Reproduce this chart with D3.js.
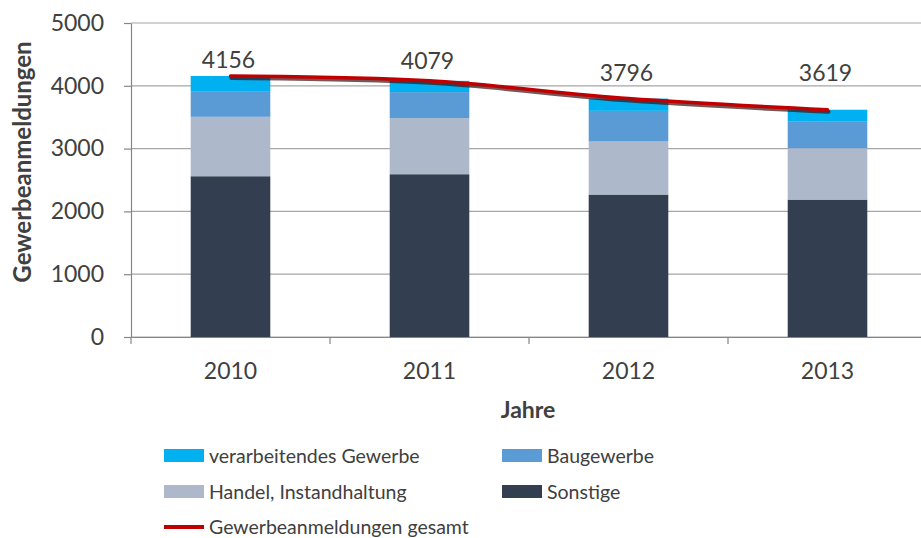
<!DOCTYPE html>
<html>
<head>
<meta charset="utf-8">
<script src="https://cdn.jsdelivr.net/npm/d3@7"></script>
<style>
  body { margin: 0; background: #fff; }
  text { font-family: Lato, "Liberation Sans", sans-serif; fill: #404040; }
</style>
</head>
<body>
<div id="chart"></div>
<script>
// data
var years = ["2010", "2011", "2012", "2013"];
var sonstige = [2560, 2592, 2268, 2188];
var handel = [946, 893, 845, 818];
var bau = [409, 415, 488, 431];
var verarb = [241, 179, 195, 182];
var gesamt = [4156, 4079, 3796, 3619];
var yTicks = [0, 1000, 2000, 3000, 4000, 5000];

var seriesNames = ["Sonstige", "Handel, Instandhaltung", "Baugewerbe", "verarbeitendes Gewerbe"];
var seriesColors = ["#333f50", "#adb9ca", "#5b9bd5", "#00b0f0"];

var W = 921, H = 538;
var margin = {top: 23, left: 131, right: -6, bottom: 201};

var svg = d3.select("#chart")
    .append("svg")
    .attr("width", W)
    .attr("height", H);

// build stack table from the arrays
var table = years.map(function(y, i) {
    return {year: y, "Sonstige": sonstige[i], "Handel, Instandhaltung": handel[i],
            "Baugewerbe": bau[i], "verarbeitendes Gewerbe": verarb[i], total: gesamt[i]};
});
var stacked = d3.stack().keys(seriesNames)(table);

var x = d3.scaleBand()
    .domain(years)
    .range([margin.left, W - margin.right])
    .padding(0);

var y = d3.scaleLinear()
    .domain([0, 5000])
    .range([H - margin.bottom, margin.top]);

var barW = x.bandwidth() * 0.4;

// gridlines
svg.append("g")
    .selectAll("line")
    .data(yTicks)
    .enter()
    .append("line")
    .attr("x1", margin.left)
    .attr("x2", W)
    .attr("y1", function(d) { return y(d); })
    .attr("y2", function(d) { return y(d); })
    .style("stroke", "#a6a6a6")
    .style("stroke-width", 1.2);

// bars
svg.append("g")
    .selectAll("g")
    .data(stacked)
    .enter()
    .append("g")
    .style("fill", function(d, i) { return seriesColors[i]; })
    .selectAll("rect")
    .data(function(d) { return d; })
    .enter()
    .append("rect")
    .attr("x", function(d) { return x(d.data.year) + (x.bandwidth() - barW) / 2; })
    .attr("y", function(d) { return y(d[1]); })
    .attr("width", barW)
    .attr("height", function(d) { return y(d[0]) - y(d[1]); });

// Y axis
var yAxis = svg.append("g")
    .attr("transform", "translate(" + margin.left + ",0)")
    .call(d3.axisLeft(y).tickValues(yTicks).tickFormat(d3.format("d")).tickSize(7).tickPadding(20).tickSizeOuter(0));
yAxis.select(".domain").style("stroke", "#868686").style("stroke-width", 1.2);
yAxis.selectAll(".tick line").style("stroke", "#868686").style("stroke-width", 1.2);
yAxis.selectAll(".tick text")
    .style("font-size", "23px")
    .style("fill", "#404040");

// X axis
var xAxis = svg.append("g")
    .attr("transform", "translate(0," + y(0) + ")")
    .call(d3.axisBottom(x).tickSize(0).tickPadding(26));
xAxis.select(".domain").style("stroke", "#868686").style("stroke-width", 1.2);
xAxis.selectAll(".tick text")
    .style("font-size", "23px")
    .style("fill", "#404040");

// tick marks between categories
svg.append("g")
    .selectAll("line")
    .data(years.concat(["end"]))
    .enter()
    .append("line")
    .attr("x1", function(d, i) { return margin.left + i * x.step(); })
    .attr("x2", function(d, i) { return margin.left + i * x.step(); })
    .attr("y1", y(0))
    .attr("y2", y(0) + 7)
    .style("stroke", "#868686")
    .style("stroke-width", 1.2);

// total line with shadow
var line = d3.line()
    .x(function(d, i) { return x(years[i]) + x.bandwidth() / 2; })
    .y(function(d) { return y(d); })
    .curve(d3.curveCatmullRom.alpha(0.5));

svg.append("path")
    .datum(gesamt)
    .attr("d", line)
    .attr("transform", "translate(1,2)")
    .style("fill", "none")
    .style("stroke", "#3a1010")
    .style("stroke-opacity", 0.7)
    .style("stroke-width", 4)
    .style("stroke-linecap", "round");

svg.append("path")
    .datum(gesamt)
    .attr("d", line)
    .style("fill", "none")
    .style("stroke", "#c00000")
    .style("stroke-width", 3.5)
    .style("stroke-linecap", "round");

// value labels above the line
var labelOffset = [8, 12, 18, 29];
svg.append("g")
    .selectAll("text")
    .data(gesamt)
    .enter()
    .append("text")
    .attr("x", function(d, i) { return x(years[i]) + x.bandwidth() / 2 - 2; })
    .attr("y", function(d, i) { return y(d) - labelOffset[i]; })
    .attr("text-anchor", "middle")
    .style("font-size", "23px")
    .text(function(d) { return d; });

// axis titles
svg.append("text")
    .attr("transform", "translate(31,162) rotate(-90)")
    .attr("text-anchor", "middle")
    .style("font-size", "24px")
    .style("font-weight", "bold")
    .text("Gewerbeanmeldungen");

svg.append("text")
    .attr("x", 528)
    .attr("y", 418)
    .attr("text-anchor", "middle")
    .style("font-size", "23px")
    .style("font-weight", "bold")
    .text("Jahre");

// legend
var legendItems = [
    {name: "verarbeitendes Gewerbe", color: seriesColors[3], col: 0, row: 0},
    {name: "Baugewerbe", color: seriesColors[2], col: 1, row: 0},
    {name: "Handel, Instandhaltung", color: seriesColors[1], col: 0, row: 1},
    {name: "Sonstige", color: seriesColors[0], col: 1, row: 1}
];
var colX = [164, 502];
var rowY = [456, 492, 527];

var legend = svg.append("g");
legend.selectAll("rect")
    .data(legendItems)
    .enter()
    .append("rect")
    .attr("x", function(d) { return colX[d.col]; })
    .attr("y", function(d) { return rowY[d.row] - 7; })
    .attr("width", 40)
    .attr("height", 13)
    .style("fill", function(d) { return d.color; });

legend.selectAll("text")
    .data(legendItems)
    .enter()
    .append("text")
    .attr("x", function(d) { return colX[d.col] + 45; })
    .attr("y", function(d) { return rowY[d.row] + 7; })
    .style("font-size", "19.5px")
    .text(function(d) { return d.name; });

legend.append("line")
    .attr("x1", colX[0])
    .attr("x2", colX[0] + 40)
    .attr("y1", rowY[2])
    .attr("y2", rowY[2])
    .style("stroke", "#c00000")
    .style("stroke-width", 4);

legend.append("text")
    .attr("x", colX[0] + 45)
    .attr("y", rowY[2] + 7)
    .style("font-size", "19.5px")
    .text("Gewerbeanmeldungen gesamt");
</script>
</body>
</html>
